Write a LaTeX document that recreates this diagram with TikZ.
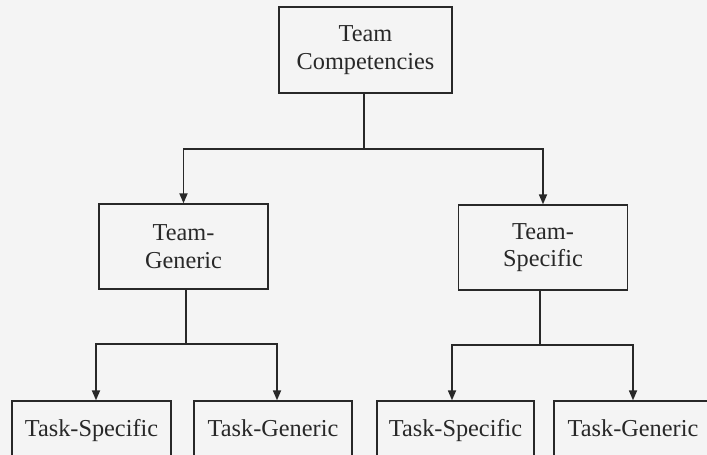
\documentclass[tikz,border=0pt]{standalone}
\usepackage{fontspec}
\setmainfont{Liberation Serif}
\usetikzlibrary{arrows.meta}
\definecolor{ink}{RGB}{40,40,40}
\definecolor{paper}{RGB}{244,244,244}
\begin{document}
\begin{tikzpicture}[x=1pt,y=-1pt,
  box/.style={draw=ink, line width=1.3pt, align=center, text=ink,
    font=\fontsize{24.3}{27.5}\selectfont, inner sep=0pt},
  topbox/.style={box, minimum width=173pt, minimum height=86pt},
  midbox/.style={box, minimum width=169pt, minimum height=85pt},
  lowbox/.style={box, minimum width=158pt, minimum height=59pt,
    text height=16.5pt, text depth=5.5pt},
  conn/.style={draw=ink, line width=1.7pt},
  arr/.style={conn, -{Triangle[length=10pt,width=8pt]}}]
\fill[paper] (0,0) rectangle (707,455);
\useasboundingbox (0,0) rectangle (707,455);
\node[topbox] (tc) at (365.5,50) {Team\\Competencies};
\node[midbox] (tg) at (183.5,246.5) {Team-\\Generic};
\node[midbox] (tsp) at (543,247.5) {Team-\\Specific};
\node[lowbox, minimum width=159pt] (b1) at (91.5,430.5) {Task-Specific};
\node[lowbox] (b2) at (273,430.5) {Task-Generic};
\node[lowbox, minimum width=157pt] (b3) at (455.5,430.5) {Task-Specific};
\node[lowbox] (b4) at (633,430.5) {Task-Generic};
% top level
\coordinate (j0) at (364,149);
\draw[conn] (tc.south -| j0) -- (j0);
\draw[arr] (j0) -| (tg.north);
\draw[arr] (j0) -| (tsp.north);
% left branch
\coordinate (j1) at (186,344);
\draw[conn] (tg.south -| j1) -- (j1);
\draw[arr] (j1) -| ([xshift=4.5pt]b1.north);
\draw[arr] (j1) -| ([xshift=4pt]b2.north);
% right branch
\coordinate (j2) at (540,345);
\draw[conn] (tsp.south -| j2) -- (j2);
\draw[arr] (j2) -| ([xshift=-3.5pt]b3.north);
\draw[arr] (j2) -| (b4.north);
\end{tikzpicture}
\end{document}
